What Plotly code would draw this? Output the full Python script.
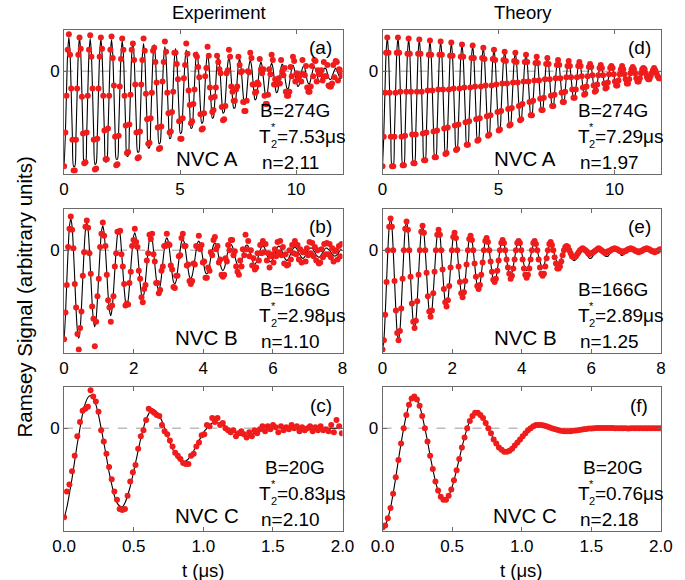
import plotly.graph_objects as go

W, H = 685, 580
FONT = "Liberation Sans, Arial, sans-serif"

# ---------------- data ----------------
# sampling steps of the time grids (microseconds)
STEP_AD = 0.46 / 9
STEP_BE = 0.46 / 12
STEP_CF = 0.019

A_DOTS = [
    -0.93, -0.60, -0.24, 0.21, 0.36, 0.16, -0.17, -0.67, -0.97,
    -0.97, -0.67, -0.17, 0.16, 0.33, 0.22, -0.25, -0.61, -0.90,
    -0.89, -0.60, -0.24, 0.21, 0.35, 0.14, -0.17, -0.67, -0.96,
    -0.95, -0.66, -0.17, 0.14, 0.33, 0.22, -0.24, -0.58, -0.86,
    -0.86, -0.56, -0.24, 0.21, 0.34, 0.13, -0.14, -0.64, -0.92,
    -0.91, -0.63, -0.15, 0.12, 0.32, 0.21, -0.24, -0.53, -0.80,
    -0.79, -0.52, -0.23, 0.21, 0.27, 0.11, -0.13, -0.60, -0.85,
    -0.84, -0.59, -0.13, 0.11, 0.32, 0.20, -0.22, -0.47, -0.71,
    -0.70, -0.46, -0.21, 0.20, 0.23, 0.09, -0.11, -0.55, -0.76,
    -0.75, -0.54, -0.10, 0.09, 0.29, 0.19, -0.21, -0.41, -0.60,
    -0.59, -0.40, -0.20, 0.18, 0.18, 0.07, -0.08, -0.49, -0.66,
    -0.66, -0.46, -0.07, 0.06, 0.27, 0.17, -0.19, -0.33, -0.51,
    -0.49, -0.32, -0.18, 0.16, 0.14, 0.04, -0.06, -0.42, -0.57,
    -0.56, -0.41, -0.05, 0.03, 0.24, 0.15, -0.16, -0.26, -0.40,
    -0.38, -0.25, -0.16, 0.15, 0.09, 0.02, -0.02, -0.35, -0.48,
    -0.47, -0.34, -0.02, 0.01, 0.21, 0.14, -0.15, -0.20, -0.29,
    -0.29, -0.18, -0.15, 0.14, 0.06, -0.01, 0.00, -0.30, -0.39,
    -0.39, -0.29, 0.00, -0.01, 0.18, 0.13, -0.13, -0.13, -0.21,
    -0.20, -0.11, -0.13, 0.12, 0.02, -0.02, 0.02, -0.24, -0.32,
    -0.32, -0.23, 0.02, -0.03, 0.16, 0.11, -0.13, -0.08, -0.13,
    -0.12, -0.07, -0.12, 0.11, 0.00, -0.04, 0.03, -0.20, -0.24,
    -0.24, -0.20, 0.04, -0.05, 0.14, 0.10, -0.10, -0.02, -0.08,
    -0.06, -0.03, -0.10, 0.11, -0.03, -0.04, 0.05, -0.16, -0.20,
    -0.20, -0.15, 0.05, -0.05, 0.11, 0.10, -0.10, 0.01, -0.03,
    -0.03, 0.01, -0.09, 0.09, -0.05, -0.05, 0.06, -0.14, -0.15,
    -0.15, -0.12, 0.06, -0.06, 0.10, 0.09, -0.09, 0.02, 0.01,
    -0.04,
]
A_FIT = [
    -0.93, -0.64, -0.21, 0.18, 0.33, 0.18, -0.21, -0.64, -0.93,
    -0.93, -0.64, -0.21, 0.18, 0.33, 0.18, -0.21, -0.64, -0.92,
    -0.92, -0.64, -0.20, 0.17, 0.32, 0.17, -0.20, -0.63, -0.91,
    -0.90, -0.63, -0.20, 0.17, 0.32, 0.17, -0.20, -0.62, -0.89,
    -0.88, -0.61, -0.20, 0.17, 0.31, 0.17, -0.19, -0.60, -0.86,
    -0.86, -0.59, -0.19, 0.16, 0.30, 0.16, -0.19, -0.58, -0.83,
    -0.83, -0.57, -0.18, 0.16, 0.29, 0.15, -0.18, -0.55, -0.79,
    -0.79, -0.54, -0.17, 0.15, 0.27, 0.15, -0.17, -0.52, -0.75,
    -0.75, -0.51, -0.16, 0.14, 0.26, 0.14, -0.16, -0.49, -0.71,
    -0.70, -0.48, -0.15, 0.13, 0.24, 0.13, -0.15, -0.46, -0.66,
    -0.65, -0.45, -0.14, 0.12, 0.22, 0.12, -0.14, -0.43, -0.61,
    -0.60, -0.41, -0.13, 0.11, 0.21, 0.11, -0.13, -0.39, -0.56,
    -0.55, -0.38, -0.12, 0.10, 0.19, 0.10, -0.12, -0.36, -0.51,
    -0.50, -0.35, -0.11, 0.09, 0.17, 0.09, -0.10, -0.32, -0.46,
    -0.45, -0.31, -0.10, 0.08, 0.15, 0.08, -0.09, -0.29, -0.41,
    -0.40, -0.28, -0.09, 0.07, 0.14, 0.07, -0.08, -0.26, -0.36,
    -0.36, -0.25, -0.08, 0.07, 0.12, 0.06, -0.07, -0.23, -0.32,
    -0.32, -0.22, -0.07, 0.06, 0.11, 0.06, -0.06, -0.20, -0.28,
    -0.27, -0.19, -0.06, 0.05, 0.09, 0.05, -0.06, -0.17, -0.24,
    -0.24, -0.16, -0.05, 0.04, 0.08, 0.04, -0.05, -0.15, -0.21,
    -0.20, -0.14, -0.04, 0.04, 0.07, 0.04, -0.04, -0.12, -0.17,
    -0.17, -0.12, -0.04, 0.03, 0.06, 0.03, -0.03, -0.10, -0.15,
    -0.14, -0.10, -0.03, 0.03, 0.05, 0.03, -0.03, -0.09, -0.12,
    -0.12, -0.08, -0.03, 0.02, 0.04, 0.02, -0.02, -0.07, -0.10,
    -0.10, -0.07, -0.02, 0.02, 0.03, 0.02, -0.02, -0.06, -0.08,
    -0.08, -0.05, -0.02, 0.01, 0.03, 0.01, -0.02, -0.05, -0.07,
    -0.07,
]
D_SIG = [
    -0.93, -0.64, -0.21, 0.18, 0.33, 0.18, -0.21, -0.64, -0.93,
    -0.93, -0.64, -0.21, 0.18, 0.33, 0.18, -0.20, -0.64, -0.92,
    -0.92, -0.63, -0.20, 0.17, 0.32, 0.17, -0.20, -0.62, -0.90,
    -0.90, -0.62, -0.20, 0.17, 0.31, 0.17, -0.20, -0.61, -0.87,
    -0.87, -0.60, -0.19, 0.16, 0.30, 0.16, -0.19, -0.59, -0.84,
    -0.84, -0.58, -0.18, 0.16, 0.29, 0.16, -0.18, -0.56, -0.81,
    -0.80, -0.55, -0.18, 0.15, 0.28, 0.15, -0.17, -0.53, -0.77,
    -0.76, -0.52, -0.17, 0.14, 0.26, 0.14, -0.16, -0.50, -0.72,
    -0.72, -0.49, -0.16, 0.13, 0.25, 0.13, -0.15, -0.47, -0.68,
    -0.67, -0.46, -0.15, 0.13, 0.23, 0.12, -0.14, -0.44, -0.63,
    -0.62, -0.43, -0.14, 0.12, 0.21, 0.11, -0.13, -0.40, -0.58,
    -0.57, -0.39, -0.12, 0.11, 0.19, 0.10, -0.12, -0.37, -0.53,
    -0.52, -0.36, -0.11, 0.10, 0.18, 0.09, -0.11, -0.34, -0.48,
    -0.47, -0.32, -0.10, 0.09, 0.16, 0.09, -0.10, -0.30, -0.43,
    -0.43, -0.29, -0.09, 0.08, 0.14, 0.08, -0.09, -0.27, -0.38,
    -0.38, -0.26, -0.08, 0.07, 0.13, 0.07, -0.08, -0.24, -0.34,
    -0.34, -0.23, -0.07, 0.06, 0.11, 0.06, -0.07, -0.21, -0.30,
    -0.30, -0.20, -0.06, 0.05, 0.10, 0.05, -0.06, -0.18, -0.26,
    -0.26, -0.18, -0.06, 0.05, 0.09, 0.05, -0.05, -0.16, -0.23,
    -0.22, -0.15, -0.05, 0.04, 0.07, 0.04, -0.04, -0.14, -0.20,
    -0.19, -0.13, -0.04, 0.03, 0.06, 0.03, -0.04, -0.12, -0.17,
    -0.16, -0.11, -0.03, 0.03, 0.05, 0.03, -0.03, -0.10, -0.14,
    -0.14, -0.09, -0.03, 0.02, 0.05, 0.02, -0.03, -0.08, -0.12,
    -0.12, -0.08, -0.02, 0.02, 0.04, 0.02, -0.02, -0.07, -0.10,
    -0.10, -0.07, -0.02, 0.02, 0.03, 0.02, -0.02, -0.06, -0.08,
    -0.08, -0.05, -0.02, 0.01, 0.03, 0.01, -0.02, -0.05, -0.07,
    -0.07,
]
B_DOTS = [
    -0.87, -0.61, -0.34, 0.03, 0.21, 0.33, 0.20, 0.02, -0.33, -0.56, -0.82, -0.97,
    -0.76, -0.60, -0.25, -0.02, 0.23, 0.29, 0.22, -0.03, -0.23, -0.55, -0.67, -0.94,
    -0.70, -0.45, -0.28, 0.03, 0.16, 0.27, 0.14, 0.04, -0.24, -0.49, -0.56, -0.70,
    -0.54, -0.45, -0.16, -0.03, 0.18, 0.18, 0.19, -0.04, -0.16, -0.33, -0.54, -0.52,
    -0.53, -0.32, -0.21, 0.04, 0.10, 0.21, 0.08, 0.03, -0.20, -0.28, -0.46, -0.51,
    -0.38, -0.34, -0.10, -0.03, 0.15, 0.11, 0.16, -0.04, -0.11, -0.32, -0.32, -0.42,
    -0.39, -0.20, -0.16, 0.04, 0.04, 0.16, 0.06, 0.05, -0.15, -0.19, -0.36, -0.37,
    -0.25, -0.25, -0.06, -0.05, 0.12, 0.16, 0.04, 0.04, -0.15, -0.14, -0.30, -0.33,
    -0.30, -0.13, -0.14, 0.04, 0.03, 0.14, 0.01, 0.05, -0.12, -0.11, -0.27, -0.27,
    -0.17, -0.20, -0.02, -0.05, 0.10, 0.13, 0.01, 0.04, -0.12, -0.09, -0.24, -0.26,
    -0.24, -0.08, -0.11, 0.05, 0.00, 0.10, 0.10, -0.05, -0.01, -0.16, -0.21, -0.24,
    -0.10, -0.16, 0.01, -0.05, 0.15, 0.01, 0.09, -0.06, 0.00, -0.15, -0.08, -0.19,
    -0.17, -0.03, -0.10, 0.05, -0.03, 0.09, -0.02, 0.06, -0.10, -0.03, -0.17, -0.06,
    -0.04, -0.12, 0.01, -0.06, 0.08, -0.02, 0.09, -0.05, 0.03, -0.13, -0.04, -0.15,
    -0.14, 0.00, -0.09, 0.05, -0.03, 0.09, -0.04, 0.05, -0.09, 0.01, -0.12, -0.02,
    -0.02, -0.11, 0.02, -0.05, 0.08, -0.03, 0.07, -0.06, 0.03, -0.10, 0.00, -0.13,
    -0.12, 0.01, -0.07, 0.06, -0.04, 0.07, -0.04, 0.06, -0.07, 0.02, -0.11, -0.01,
    0.00, -0.09, 0.04, -0.06, 0.06,
]
B_FIT = [
    -0.88, -0.64, -0.31, 0.00, 0.23, 0.31, 0.23, 0.00, -0.29, -0.59, -0.79, -0.86,
    -0.78, -0.56, -0.28, 0.00, 0.20, 0.27, 0.20, 0.00, -0.26, -0.51, -0.69, -0.75,
    -0.67, -0.48, -0.24, 0.00, 0.18, 0.24, 0.17, 0.00, -0.22, -0.44, -0.59, -0.64,
    -0.57, -0.41, -0.20, 0.00, 0.15, 0.20, 0.15, 0.00, -0.19, -0.37, -0.50, -0.55,
    -0.49, -0.35, -0.17, 0.00, 0.13, 0.17, 0.12, 0.00, -0.16, -0.32, -0.43, -0.46,
    -0.42, -0.30, -0.15, 0.00, 0.11, 0.15, 0.11, 0.00, -0.14, -0.27, -0.36, -0.39,
    -0.35, -0.25, -0.12, 0.00, 0.09, 0.12, 0.09, 0.00, -0.11, -0.23, -0.31, -0.33,
    -0.30, -0.21, -0.10, 0.00, 0.08, 0.10, 0.08, 0.00, -0.10, -0.19, -0.26, -0.28,
    -0.25, -0.18, -0.09, 0.00, 0.07, 0.09, 0.06, 0.00, -0.08, -0.16, -0.22, -0.23,
    -0.21, -0.15, -0.07, 0.00, 0.05, 0.07, 0.05, 0.00, -0.07, -0.13, -0.18, -0.20,
    -0.18, -0.13, -0.06, 0.00, 0.05, 0.06, 0.04, 0.00, -0.06, -0.11, -0.15, -0.16,
    -0.15, -0.11, -0.05, 0.00, 0.04, 0.05, 0.04, 0.00, -0.05, -0.09, -0.13, -0.14,
    -0.12, -0.09, -0.04, 0.00, 0.03, 0.04, 0.03, 0.00, -0.04, -0.08, -0.11, -0.11,
    -0.10, -0.07, -0.04, 0.00, 0.03, 0.04, 0.03, 0.00, -0.03, -0.07, -0.09, -0.10,
    -0.09, -0.06, -0.03, 0.00, 0.02, 0.03, 0.02, 0.00, -0.03, -0.05, -0.07, -0.08,
    -0.07, -0.05, -0.03, 0.00, 0.02, 0.02, 0.02, 0.00, -0.02, -0.05, -0.06, -0.07,
    -0.06, -0.04, -0.02, 0.00, 0.02, 0.02, 0.01, 0.00, -0.02, -0.04, -0.05, -0.06,
    -0.05, -0.04, -0.02, 0.00, 0.01,
]
E_DOTS = [
    -0.97, -0.88, -0.63, -0.31, 0.00, 0.23, 0.31, 0.23, 0.00, -0.30, -0.59, -0.81,
    -0.88, -0.79, -0.57, -0.28, 0.00, 0.21, 0.28, 0.20, 0.00, -0.26, -0.52, -0.70,
    -0.76, -0.69, -0.50, -0.24, 0.00, 0.18, 0.24, 0.17, 0.00, -0.22, -0.45, -0.60,
    -0.65, -0.59, -0.42, -0.21, 0.00, 0.15, 0.20, 0.15, 0.00, -0.19, -0.38, -0.51,
    -0.55, -0.49, -0.35, -0.17, 0.00, 0.13, 0.17, 0.12, 0.00, -0.16, -0.31, -0.42,
    -0.46, -0.41, -0.30, -0.14, 0.00, 0.11, 0.14, 0.10, 0.00, -0.13, -0.26, -0.35,
    -0.38, -0.34, -0.24, -0.12, 0.00, 0.09, 0.12, 0.08, 0.00, -0.11, -0.21, -0.29,
    -0.31, -0.28, -0.20, -0.10, 0.00, 0.07, 0.10, 0.07, 0.00, -0.09, -0.17, -0.23,
    -0.28, -0.25, -0.18, -0.09, 0.00, 0.07, 0.09, 0.07, 0.00, -0.09, -0.18, -0.24,
    -0.27, -0.24, -0.18, -0.09, 0.00, 0.07, 0.09, 0.06, 0.00, -0.09, -0.17, -0.23,
    -0.25, -0.23, -0.16, -0.08, 0.00, 0.06, 0.08, 0.05, 0.00, -0.07, -0.13, -0.18,
    -0.18, -0.16, -0.11, -0.05, 0.00, 0.03, 0.04, 0.03, 0.00, -0.03, -0.06, -0.07,
    -0.07, -0.06, -0.04, -0.02, 0.00, 0.01, 0.02, 0.01, 0.00, -0.01, -0.03, -0.04,
    -0.03, -0.03, -0.02, -0.01, 0.00, 0.01, 0.02, 0.01, 0.00, -0.01, -0.02, -0.03,
    -0.02, -0.01, -0.01, 0.00, 0.01, 0.01, 0.02, 0.01, 0.01, 0.00, -0.01, -0.01,
    -0.02, -0.01, -0.01, 0.00, 0.01, 0.01, 0.02, 0.01, 0.01, 0.00, -0.01, -0.01,
    -0.02, -0.01, -0.01, 0.00, 0.01, 0.01, 0.02, 0.01, 0.01, 0.00, -0.01, -0.01,
    -0.02, -0.01, -0.01, 0.00, 0.01,
]
E_LINE = [
    -0.97, -0.88, -0.63, -0.31, 0.00, 0.23, 0.31, 0.23, 0.00, -0.30, -0.59, -0.81,
    -0.88, -0.79, -0.57, -0.28, 0.00, 0.21, 0.28, 0.20, 0.00, -0.26, -0.52, -0.70,
    -0.76, -0.69, -0.50, -0.24, 0.00, 0.18, 0.24, 0.17, 0.00, -0.22, -0.45, -0.60,
    -0.65, -0.59, -0.42, -0.21, 0.00, 0.15, 0.20, 0.15, 0.00, -0.19, -0.38, -0.51,
    -0.55, -0.49, -0.35, -0.17, 0.00, 0.13, 0.17, 0.12, 0.00, -0.16, -0.31, -0.42,
    -0.46, -0.41, -0.30, -0.14, 0.00, 0.11, 0.14, 0.10, 0.00, -0.13, -0.26, -0.35,
    -0.38, -0.34, -0.24, -0.12, 0.00, 0.09, 0.12, 0.08, 0.00, -0.11, -0.21, -0.29,
    -0.31, -0.28, -0.20, -0.10, 0.00, 0.07, 0.10, 0.07, 0.00, -0.09, -0.17, -0.23,
    -0.25, -0.22, -0.16, -0.08, 0.00, 0.06, 0.08, 0.06, 0.00, -0.07, -0.14, -0.19,
    -0.20, -0.18, -0.13, -0.06, 0.00, 0.05, 0.06, 0.04, 0.00, -0.06, -0.11, -0.15,
    -0.16, -0.15, -0.10, -0.05, 0.00, 0.04, 0.05, 0.04, 0.00, -0.05, -0.09, -0.12,
    -0.13, -0.12, -0.08, -0.04, 0.00, 0.03, 0.04, 0.03, 0.00, -0.04, -0.07, -0.10,
    -0.10, -0.09, -0.07, -0.03, 0.00, 0.02, 0.03, 0.02, 0.00, -0.03, -0.06, -0.08,
    -0.08, -0.07, -0.05, -0.03, 0.00, 0.02, 0.02, 0.02, 0.00, -0.02, -0.04, -0.06,
    -0.06, -0.06, -0.04, -0.02, 0.00, 0.01, 0.02, 0.01, 0.00, -0.02, -0.03, -0.05,
    -0.05, -0.04, -0.03, -0.02, 0.00, 0.01, 0.02, 0.01, 0.00, -0.01, -0.03, -0.04,
    -0.04, -0.03, -0.03, -0.01, 0.00, 0.01, 0.01, 0.01, 0.00, -0.01, -0.02, -0.03,
    -0.03, -0.03, -0.02, -0.01, 0.00,
]
C_DOTS = [
    -0.87, -0.62, -0.55, -0.42, -0.27, -0.08, 0.06, 0.17, 0.19, 0.21,
    0.37, 0.31, 0.26, 0.16, -0.02, -0.13, -0.25, -0.38, -0.50, -0.62,
    -0.70, -0.79, -0.80, -0.79, -0.66, -0.52, -0.43, -0.36, -0.20, -0.08,
    -0.02, 0.08, 0.19, 0.17, 0.15, 0.13, 0.12, 0.03, -0.03, -0.06,
    -0.12, -0.18, -0.24, -0.27, -0.30, -0.34, -0.35, -0.35, -0.27, -0.25,
    -0.18, -0.14, -0.07, -0.06, 0.03, 0.02, 0.10, 0.06, 0.10, 0.03,
    0.05, 0.00, -0.02, -0.04, -0.02, -0.08, -0.05, -0.03, -0.06, -0.09,
    -0.04, -0.08, -0.02, -0.05, -0.01, 0.02, -0.03, 0.02, -0.01, 0.03,
    0.01, -0.04, 0.02, -0.02, 0.01, -0.01, 0.03, 0.00, 0.02, -0.03,
    0.01, -0.02, 0.00, 0.02, -0.03, 0.01, -0.02, 0.02, -0.02, -0.01,
    -0.03, 0.03, -0.04, 0.08, 0.02, -0.05,
]
C_FIT = [
    -0.88, -0.78, -0.64, -0.49, -0.32, -0.15, 0.00, 0.14, 0.24, 0.30,
    0.32, 0.29, 0.23, 0.13, 0.00, -0.14, -0.28, -0.43, -0.55, -0.66,
    -0.73, -0.76, -0.77, -0.73, -0.66, -0.57, -0.46, -0.34, -0.22, -0.10,
    0.00, 0.09, 0.14, 0.18, 0.18, 0.16, 0.12, 0.07, 0.00, -0.07,
    -0.14, -0.20, -0.26, -0.30, -0.32, -0.33, -0.32, -0.30, -0.26, -0.22,
    -0.17, -0.12, -0.08, -0.03, 0.00, 0.03, 0.05, 0.05, 0.05, 0.05,
    0.03, 0.02, 0.00, -0.02, -0.03, -0.05, -0.06, -0.07, -0.07, -0.07,
    -0.066, -0.059, -0.051, -0.041, -0.031, -0.022, -0.013, -0.006, 0.0, 0.004,
    0.007, 0.008, 0.008, 0.007, 0.005, 0.002, 0.0, -0.002, -0.004, -0.006,
    -0.007, -0.007, -0.007, -0.007, -0.006, -0.006, -0.005, -0.004, -0.003, -0.002,
    -0.001, 0.0, 0.0, 0.0, 0.0, 0.001,
]
F_SIG = [
    -0.97, -0.95, -0.88, -0.78, -0.64, -0.48, -0.31, -0.15, 0.00, 0.13,
    0.23, 0.29, 0.31, 0.28, 0.22, 0.12, 0.00, -0.13, -0.27, -0.40,
    -0.52, -0.61, -0.67, -0.70, -0.70, -0.66, -0.60, -0.51, -0.41, -0.30,
    -0.19, -0.09, 0.00, 0.07, 0.12, 0.15, 0.15, 0.13, 0.10, 0.05,
    0.00, -0.05, -0.11, -0.15, -0.19, -0.21, -0.23, -0.23, -0.22, -0.20,
    -0.17, -0.14, -0.11, -0.08, -0.05, -0.02, 0.00, 0.02, 0.03, 0.03,
    0.03, 0.025, 0.018, 0.01, 0.00, -0.008, -0.016, -0.022, -0.027, -0.029,
    -0.03, -0.029, -0.026, -0.023, -0.019, -0.015, -0.011, -0.008, -0.004, -0.002,
    0.0, 0.001, 0.002, 0.002, 0.002, 0.002, 0.001, 0.001, 0.0, -0.001,
    -0.001, -0.001, -0.001, -0.002, -0.001, -0.001, -0.001, -0.001, -0.001, -0.001,
    0.0, 0.0, 0.0, 0.0, 0.0, 0.0,
]

PANEL_LABELS = ["(a)", "(b)", "(c)", "(d)", "(e)", "(f)"]
FIELD_TEXT = ["B=274G", "B=166G", "B=20G", "B=274G", "B=166G", "B=20G"]
T2_TEXT = ["=7.53μs", "=2.98μs", "=0.83μs", "=7.29μs", "=2.89μs", "=0.76μs"]
N_TEXT = ["n=2.11", "n=1.10", "n=2.10", "n=1.97", "n=1.25", "n=2.18"]
NVC_TEXT = ["NVC A", "NVC B", "NVC C", "NVC A", "NVC B", "NVC C"]
X_RANGES = [[0, 12], [0, 8], [0, 2], [0, 12], [0, 8], [0, 2]]
X_TICKS = [[0, 5, 10], [0, 2, 4, 6, 8], [0, 0.5, 1, 1.5, 2]] * 2
X_FMT = ["d", "d", ".1f", "d", "d", ".1f"]
Y_RANGE = [-1.0, 0.4025]

# ---------------- layout geometry (pixels) ----------------
COL_L = [54, 384]
COL_W = 288.5
ROW_T = [30, 209, 387]
ROW_H = 143.5

def px(x):
    return x / W

def py(y):
    return 1 - y / H

series = [
    (A_DOTS, A_FIT, STEP_AD), (B_DOTS, B_FIT, STEP_BE), (C_DOTS, C_FIT, STEP_CF),
    (D_SIG, D_SIG, STEP_AD), (E_DOTS, E_LINE, STEP_BE), (F_SIG, F_SIG, STEP_CF),
]

fig = go.Figure()
annotations = []
shapes = []
axis_col = "#6a6a6a"

def ann(text, x, y, size=19, xanchor="center", angle=0):
    annotations.append(dict(text=text, x=px(x), y=py(y), xref="paper", yref="paper",
                            showarrow=False, xanchor=xanchor, yanchor="middle", textangle=angle,
                            borderpad=0,
                            font=dict(family=FONT, size=size, color="black")))

for k in range(6):
    col, row = k // 3, k % 3
    n = k + 1
    xa = "x" if n == 1 else f"x{n}"
    ya = "y" if n == 1 else f"y{n}"
    dots, line, step = series[k]
    t_line = [i * step for i in range(len(line))]
    t_dots = [i * step for i in range(len(dots))]
    fig.add_trace(go.Scatter(x=t_line, y=line, mode="lines", xaxis=xa, yaxis=ya,
                             line=dict(color="black", width=1.1, shape="spline", smoothing=0.8),
                             showlegend=False, hoverinfo="skip"))
    fig.add_trace(go.Scatter(x=t_dots, y=dots, mode="markers", xaxis=xa, yaxis=ya,
                             marker=dict(color="#f01c1c", size=6, line=dict(width=0)),
                             showlegend=False, hoverinfo="skip"))

    L, T = COL_L[col], ROW_T[row]
    xdom = [px(L), px(L + COL_W)]
    ydom = [py(T + ROW_H), py(T)]
    xkey = "xaxis" if n == 1 else f"xaxis{n}"
    ykey = "yaxis" if n == 1 else f"yaxis{n}"
    fig.layout[xkey] = dict(domain=xdom, range=X_RANGES[k], anchor=ya,
                            tickvals=X_TICKS[k], tickformat=X_FMT[k],
                            ticks="inside", ticklen=4, tickcolor=axis_col,
                            showline=True, linecolor=axis_col, linewidth=1, mirror="ticks",
                            showgrid=False, zeroline=False, fixedrange=True,
                            tickfont=dict(family=FONT, size=17, color="black"))
    fig.layout[ykey] = dict(domain=ydom, range=Y_RANGE, anchor=xa,
                            tickvals=[0], ticktext=["0"],
                            ticks="inside", ticklen=4, tickcolor=axis_col,
                            showline=True, linecolor=axis_col, linewidth=1, mirror="ticks",
                            showgrid=False, zeroline=False, fixedrange=True,
                            tickfont=dict(family=FONT, size=17, color="black"))
    shapes.append(dict(type="line", xref=f"{xa} domain", yref=ya, x0=0, x1=1, y0=0, y1=0,
                       line=dict(color="#9a9a9a", width=1, dash="dash"), layer="below"))

    ann(PANEL_LABELS[k], L + 266, T + 18)
    ann(FIELD_TEXT[k], L + 239, T + 80)
    tx = L + 201
    ann("T", tx, T + 106, xanchor="left")
    ann("*", tx + 12, T + 97, size=11, xanchor="left")
    ann("2", tx + 12, T + 114, size=11, xanchor="left")
    ann(T2_TEXT[k], tx + 18.5, T + 106, xanchor="left")
    ann(N_TEXT[k], L + 235, T + 132)
    ann(NVC_TEXT[k], L + 148, T + 128, size=20.5)

ann("Experiment", 215, 13, size=18.5)
ann("Theory", 530, 13, size=18.5)
ann("t (μs)", 198, 570, size=18.5)
ann("t (μs)", 528, 570, size=18.5)
ann("Ramsey Signal (arbitrary units)", 12, 297, size=20.5, angle=-90)

fig.update_layout(width=W, height=H, margin=dict(l=0, r=0, t=0, b=0),
                  paper_bgcolor="white", plot_bgcolor="white",
                  annotations=annotations, shapes=shapes)

fig.write_html("out.html", config={"displayModeBar": False, "staticPlot": True},
               post_script="document.body.style.margin='0px';document.body.style.overflow='hidden';")
